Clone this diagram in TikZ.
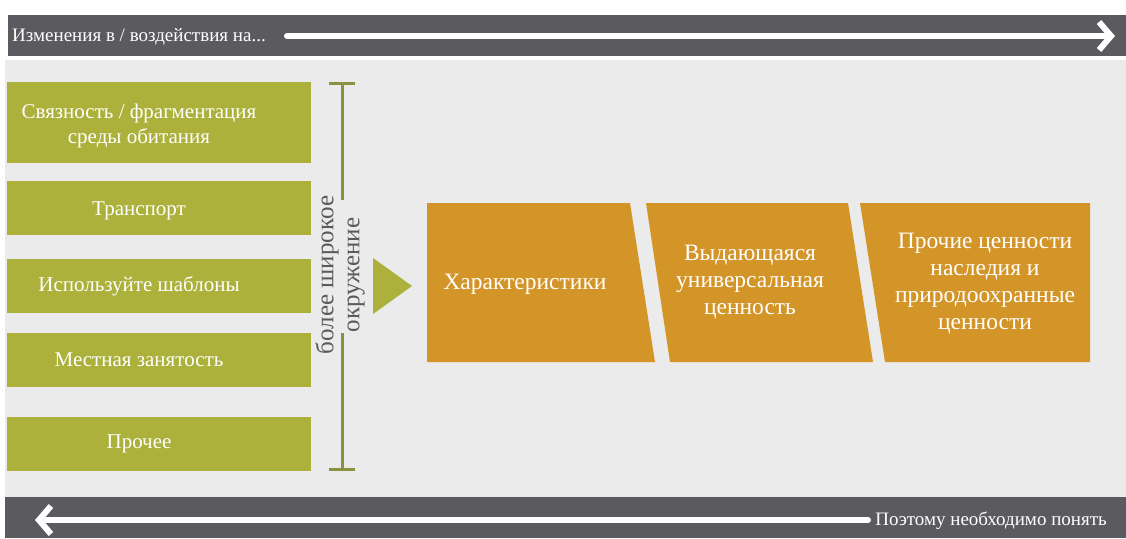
\documentclass[tikz,border=0pt]{standalone}
\usepackage{fontspec}
\setmainfont{Liberation Serif}
\usetikzlibrary{arrows.meta}
\definecolor{barGrey}{HTML}{5B5A5E}
\definecolor{panelGrey}{HTML}{EBEBEB}
\definecolor{envGreen}{HTML}{ABB13B}
\definecolor{bracketGreen}{HTML}{8A9241}
\definecolor{valueOrange}{HTML}{D49528}
\definecolor{sideText}{HTML}{5A5A5A}
\begin{document}
\begin{tikzpicture}[x=1pt, y=-1pt,
greenbox/.style={rectangle, fill=envGreen, minimum width=304pt, minimum height=54pt, inner sep=0pt},
greentext/.style={text=white, font=\fontsize{21}{25}\selectfont, align=center},
orangetext/.style={text=white, font=\fontsize{23.5}{27}\selectfont, align=center},
bartext/.style={text=white, font=\fontsize{19}{22}\selectfont, inner sep=0pt},
whitearrow/.style={white, line width=6pt, line cap=round, -{Straight Barb[length=12pt, width=28pt, line cap=butt]}},
bracketline/.style={bracketGreen, line width=3pt}]

\useasboundingbox (0,0) rectangle (1126,538);

\fill[barGrey] (8,15) rectangle (1126,56);
\fill[panelGrey] (5,60) rectangle (1126,497);
\fill[barGrey] (5,497) rectangle (1126,538);

\node[bartext, anchor=west](changesText) at (12,37){Изменения в / воздействия на...};
\coordinate (changesStart) at (287,36);
\coordinate (changesEnd) at (1115,36);
\draw[whitearrow](changesStart) -- (changesEnd);

\node[bartext, anchor=east](understandText) at (1107,521){Поэтому необходимо понять};
\coordinate (understandStart) at (868,520);
\coordinate (understandEnd) at (35,520);
\draw[whitearrow](understandStart) -- (understandEnd);

\node[greenbox, minimum height=81pt, label={[greentext, xshift=-20pt, yshift=-3pt]center:Связность / фрагментация\\среды обитания}](habitat) at (159,122.5){};
\node[greenbox, label={[greentext, xshift=-20pt, yshift=-3pt]center:Транспорт}](transport) at (159,208){};
\node[greenbox, label={[greentext, xshift=-20pt]center:Используйте шаблоны}](patterns) at (159,286){};
\node[greenbox, label={[greentext, xshift=-20pt]center:Местная занятость}](employment) at (159,360){};
\node[greenbox, label={[greentext, xshift=-20pt]center:Прочее}](other) at (159,444){};

\draw[bracketline](329,83) -- (355,83);
\draw[bracketline](342,83) -- (342,200);
\draw[bracketline](342,333) -- (342,469);
\draw[bracketline](329,469) -- (355,469);
\node[rotate=90, align=center, text=sideText, font=\fontsize{25}{26}\selectfont](widerSetting) at (340,275){более широкое\\окружение};

\fill[envGreen](373,258) -- (412,286) -- (373,314) -- cycle;

\fill[valueOrange](427,203) -- (630,203) -- (655,362) -- (427,362) -- cycle;
\fill[valueOrange](646,203) -- (848,203) -- (873,362) -- (670,362) -- cycle;
\fill[valueOrange](860,203) -- (1090,203) -- (1090,362) -- (885,362) -- cycle;

\node[orangetext](attributes) at (525,284){Характеристики};
\node[orangetext](ouv) at (750,282){Выдающаяся\\универсальная\\ценность};
\node[orangetext](otherValues) at (985,284){Прочие ценности\\наследия и\\природоохранные\\ценности};

\end{tikzpicture}
\end{document}
